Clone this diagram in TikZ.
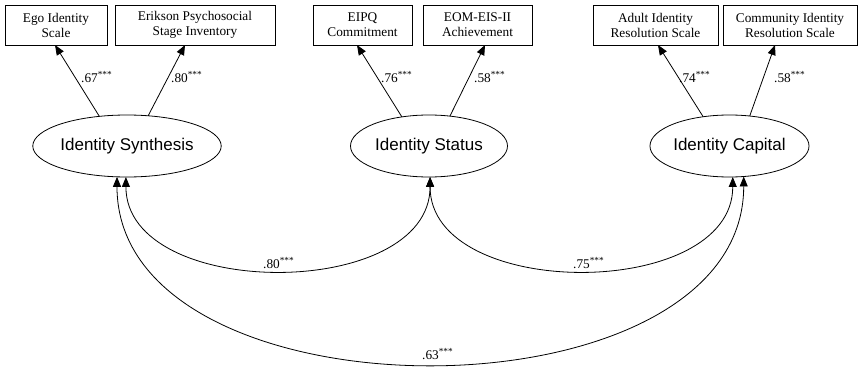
\documentclass[tikz,border=0pt]{standalone}
\usepackage{fontspec}
\setmainfont{Liberation Serif}
\newfontfamily\latentfont{Liberation Sans}
\usetikzlibrary{arrows.meta,shapes.geometric}

\tikzset{
  indicator/.style={draw, line width=0.8pt, minimum height=40pt, inner sep=0pt,
    outer sep=0pt, align=center, font=\fontsize{13.3}{15}\selectfont},
  latent/.style={draw, ellipse, line width=0.8pt, minimum width=157pt,
    minimum height=62pt, inner sep=0pt, outer sep=0pt,
    font=\latentfont\fontsize{17}{20}\selectfont},
  coef/.style={font=\fontsize{13.3}{15}\selectfont, inner sep=0pt, anchor=west},
  loading/.style={line width=0.8pt, -{Triangle[length=10pt,width=8pt]}},
  corr/.style={line width=0.8pt, {Triangle[length=10pt,width=8pt]}-{Triangle[length=10pt,width=8pt]}},
}

\begin{document}
\begin{tikzpicture}[x=1pt,y=-1pt]
\useasboundingbox (0,0) rectangle (863,369);

% observed indicators
\node[indicator, minimum width=102pt] (b1) at (56,25)    {Ego Identity\\Scale};
\node[indicator, minimum width=160pt] (b2) at (195,25)   {Erikson Psychosocial\\Stage Inventory};
\node[indicator, minimum width=99pt]  (b3) at (362.5,25) {EIPQ\\Commitment};
\node[indicator, minimum width=109pt] (b4) at (477.5,25) {EOM-EIS-II\\Achievement};
\node[indicator, minimum width=125pt] (b5) at (655.5,25) {Adult Identity\\Resolution Scale};
\node[indicator, minimum width=134pt] (b6) at (790,25)   {Community Identity\\Resolution Scale};

% latent factors
\node[latent] (syn) at (127,146)   {Identity Synthesis};
\node[latent] (sta) at (429,146)   {Identity Status};
\node[latent] (cap) at (729.5,146) {Identity Capital};

% factor loadings
\draw[loading] (syn.133) -- ([xshift=-1pt]b1.south);
\draw[loading] (syn.55)  -- ([xshift=-10pt]b2.south);
\draw[loading] (sta.133) -- ([xshift=-5.5pt]b3.south);
\draw[loading] (sta.55)  -- ([xshift=7.5pt]b4.south);
\draw[loading] (cap.132) -- ([xshift=2.5pt]b5.south);
\draw[loading] (cap.56)  -- ([xshift=-15pt]b6.south);

\node[coef] (l1) at (81,77)  {.67\textsuperscript{***}};
\node[coef] (l2) at (171,77) {.80\textsuperscript{***}};
\node[coef] (l3) at (381,77) {.76\textsuperscript{***}};
\node[coef] (l4) at (474,77) {.58\textsuperscript{***}};
\node[coef] (l5) at (679,77) {.74\textsuperscript{***}};
\node[coef] (l6) at (774,77) {.58\textsuperscript{***}};

% factor correlations
\draw[corr] (syn.268) .. controls +(0,124) and +(0,124) .. (sta.272);
\draw[corr] (sta.272) .. controls +(0,124) and +(0,124) .. (cap.276);
\draw[corr] (syn.252) .. controls +(0,249) and +(0,249) .. (cap.295);

\node[coef] (c1) at (263,263) {.80\textsuperscript{***}};
\node[coef] (c2) at (573,263) {.75\textsuperscript{***}};
\node[coef] (c3) at (422,354) {.63\textsuperscript{***}};
\end{tikzpicture}
\end{document}
